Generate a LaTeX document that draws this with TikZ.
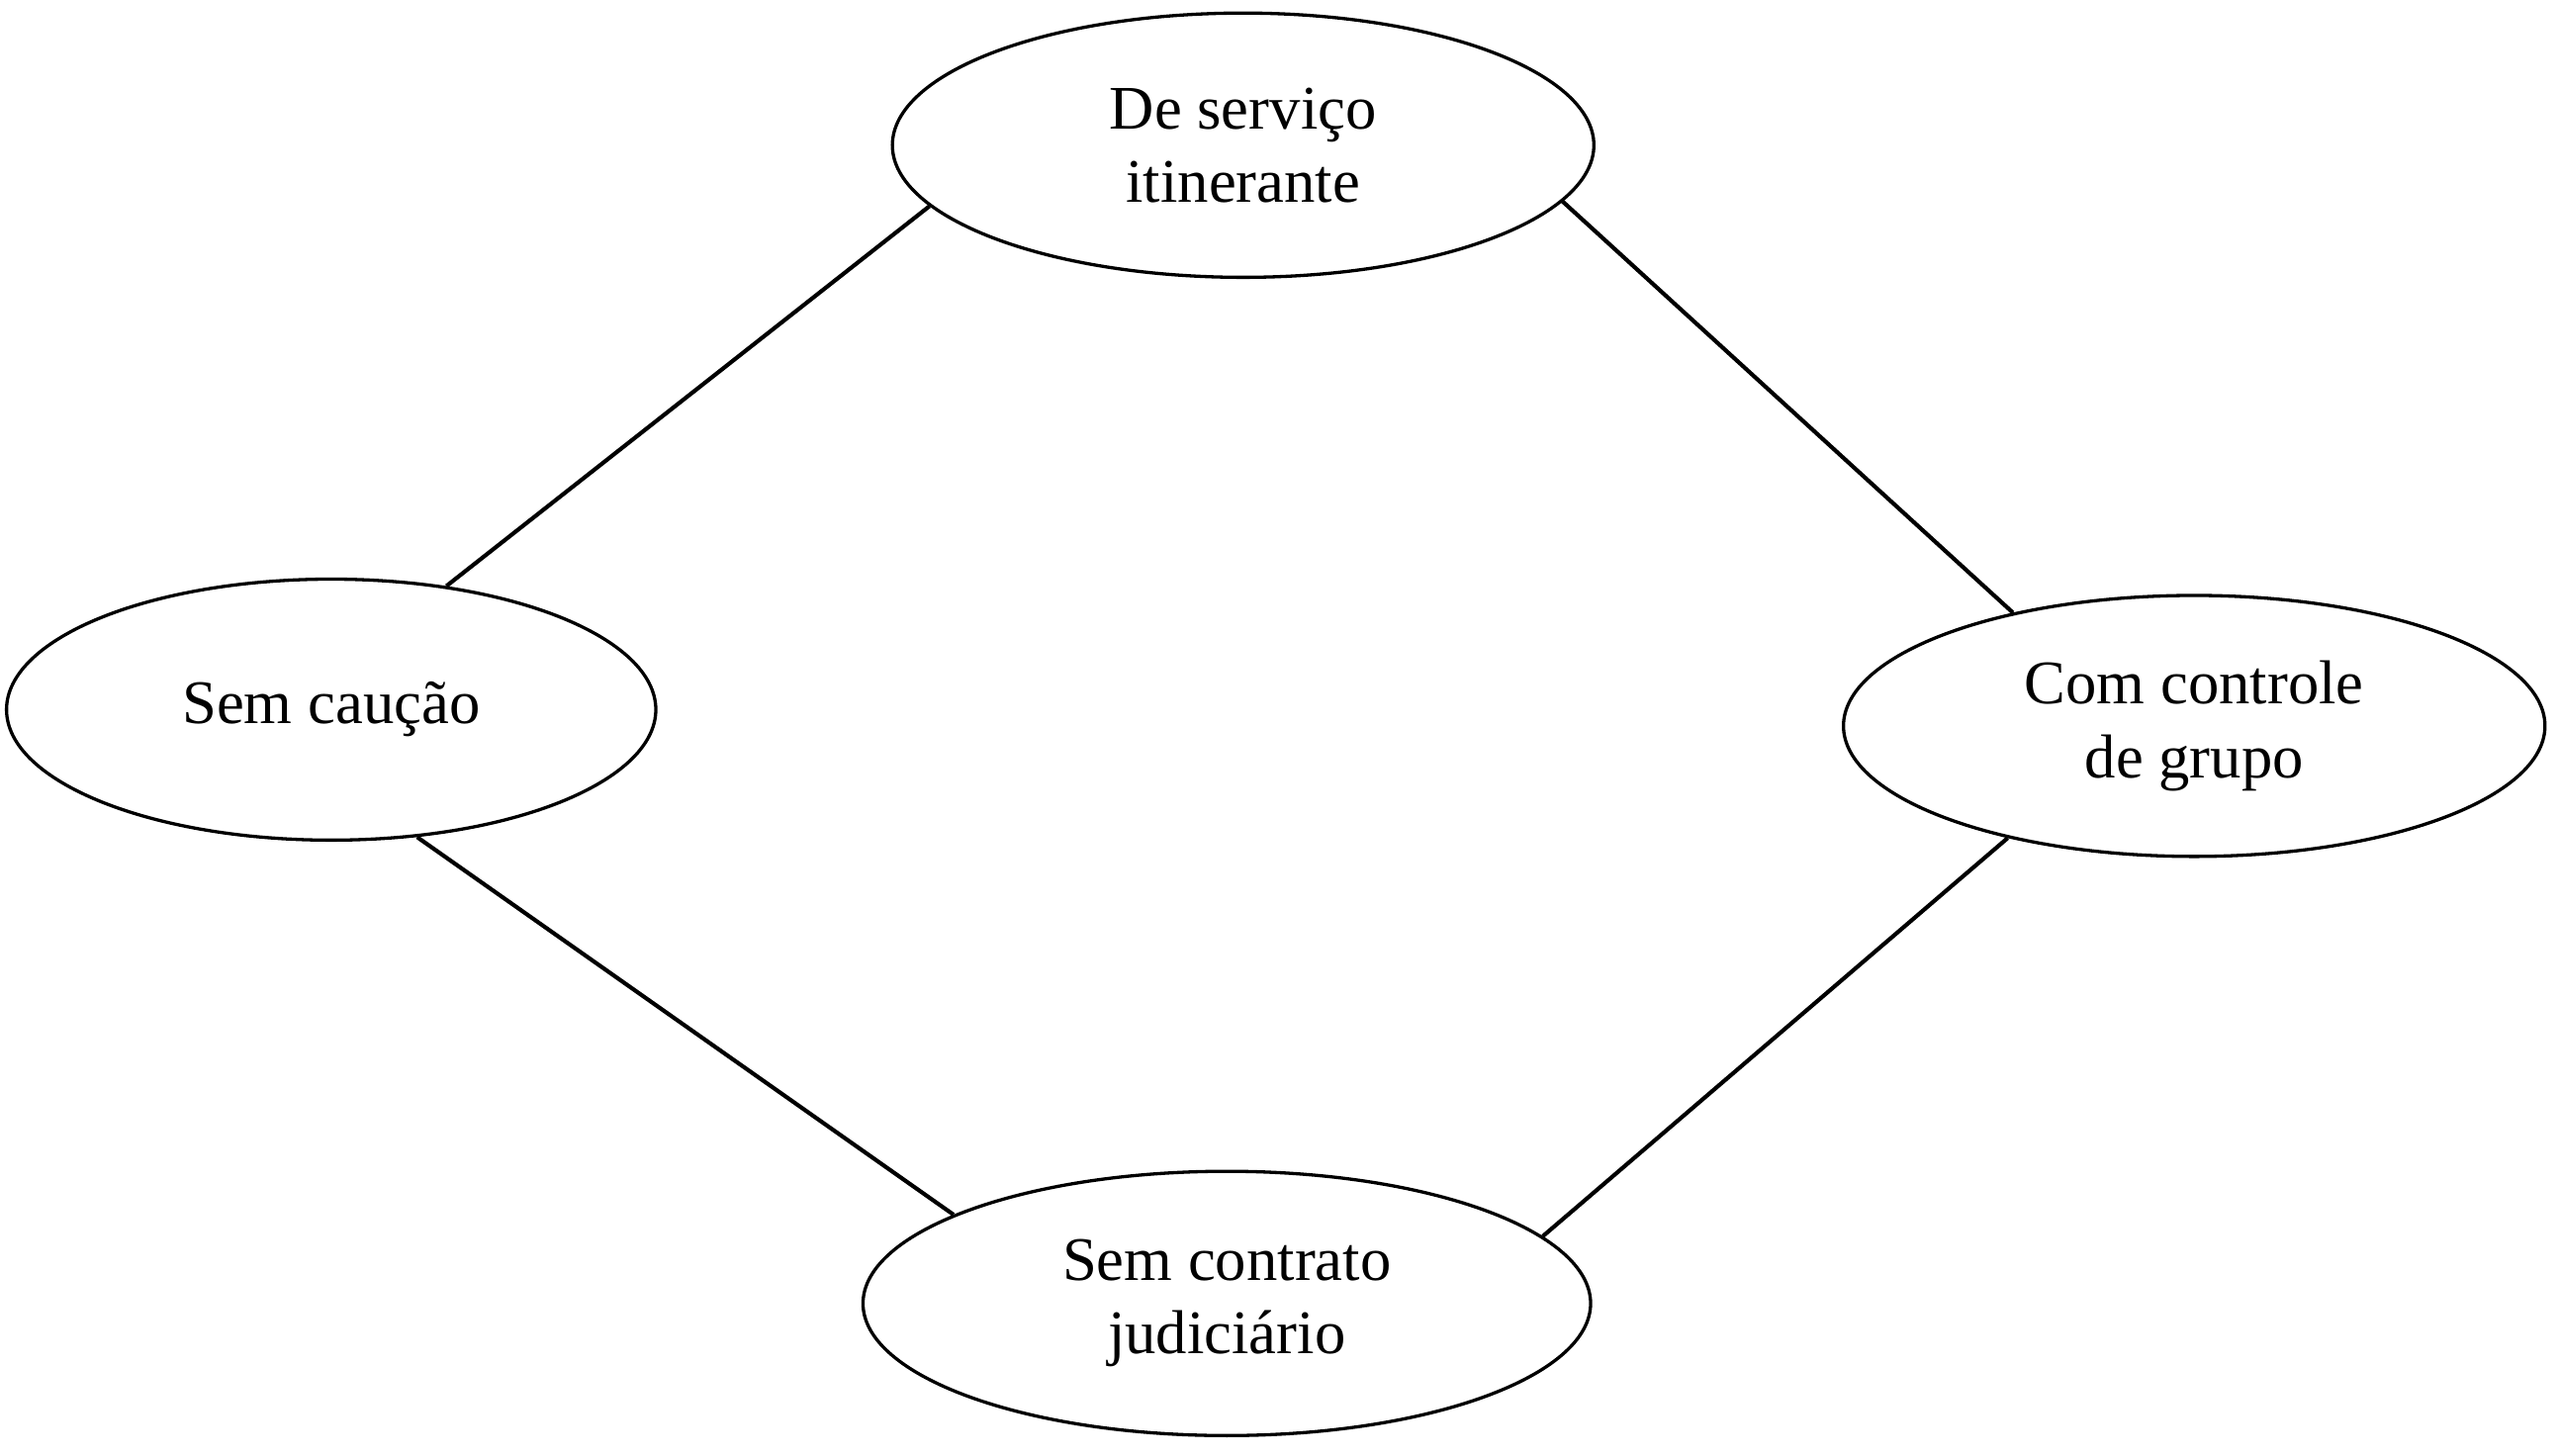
\documentclass[tikz,border=0pt]{standalone}
\usepackage{fontspec}
\setmainfont{Liberation Serif}
\usetikzlibrary{shapes.geometric}
\begin{document}
\begin{tikzpicture}[x=1pt,y=-1pt,
  ell/.style={ellipse,draw,line width=2pt,inner sep=0pt,align=center,font=\fontsize{38}{45}\selectfont},
  conn/.style={line width=2.5pt}]
\useasboundingbox (0,0) rectangle (1568,892);
\node[ell,minimum width=430pt,minimum height=162pt] (top) at (762,89) {De serviço\\itinerante};
\node[ell,minimum width=398pt,minimum height=160pt] (left) at (203,435) {Sem caução};
\node[ell,minimum width=430pt,minimum height=160pt] (right) at (1345,445) {Com controle\\de grupo};
\node[ell,minimum width=446pt,minimum height=162pt] (bot) at (752,799) {Sem contrato\\judiciário};
\draw[conn] (top.191.8) -- (left.47);
\draw[conn] (top.-10.6) -- (right.148);
\draw[conn] (left.-56) -- (bot.162.5);
\draw[conn] (right.211) -- (bot.12.8);
\end{tikzpicture}
\end{document}
